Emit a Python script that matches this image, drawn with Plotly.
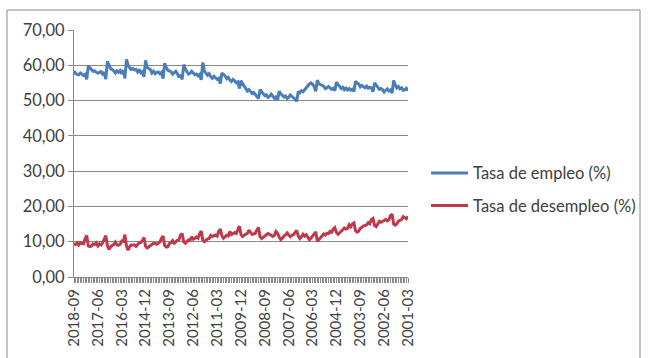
import pandas as pd
import plotly.graph_objects as go

# Monthly periods, March 2001 to September 2018
months = [p.strftime("%Y-%m") for p in pd.period_range("2001-03", "2018-09", freq="M")]

# Tasa de empleo (%), chronological, one row per year
empleo = [
    52.8, 53.5, 53.1, 52.9, 53.6, 53.3, 54.0, 53.6, 54.4, 55.7,              # 2001 (Mar-Dec)
    52.1, 53.0, 52.7, 53.3, 52.9, 52.4, 53.1, 53.4, 53.2, 53.8, 54.2, 55.0,  # 2002
    52.5, 53.6, 53.8, 53.5, 54.1, 53.6, 53.9, 54.3, 53.9, 54.7, 55.0, 55.5,  # 2003
    52.6, 53.2, 52.9, 53.4, 53.0, 53.5, 53.1, 53.8, 53.4, 54.0, 54.4, 55.2,  # 2004
    52.8, 53.5, 53.2, 53.7, 54.0, 53.6, 53.4, 54.1, 54.2, 54.5, 54.8, 55.8,  # 2005
    52.6, 54.0, 54.6, 55.0, 54.7, 54.2, 53.4, 52.9, 52.5, 52.8, 52.2, 52.6,  # 2006
    49.8, 50.4, 50.9, 51.2, 51.6, 50.9, 50.6, 51.3, 51.0, 51.5, 51.9, 52.6,  # 2007
    50.2, 51.0, 50.6, 51.3, 51.8, 51.2, 50.9, 51.6, 51.4, 51.9, 52.4, 53.1,  # 2008
    50.6, 51.2, 51.8, 52.3, 52.0, 52.6, 53.1, 52.7, 53.3, 54.2, 54.8, 55.6,  # 2009
    53.4, 55.3, 55.1, 55.6, 56.0, 55.4, 55.8, 56.6, 56.2, 57.0, 57.4, 57.8,  # 2010
    54.8, 56.3, 56.0, 56.5, 56.9, 56.3, 56.7, 57.6, 57.2, 57.8, 58.4, 60.8,  # 2011
    55.9, 57.4, 57.0, 57.5, 57.3, 57.8, 58.3, 57.7, 57.5, 58.2, 58.9, 60.2,  # 2012
    56.0, 57.3, 56.6, 57.6, 58.3, 57.9, 57.5, 58.2, 58.4, 58.6, 59.4, 60.6,  # 2013
    56.2, 58.0, 57.6, 58.1, 58.0, 57.6, 58.3, 57.8, 58.8, 59.1, 59.4, 61.4,  # 2014
    56.7, 58.2, 57.9, 58.8, 58.1, 58.8, 58.7, 59.1, 58.8, 59.3, 60.1, 61.7,  # 2015
    56.3, 58.6, 57.6, 58.5, 58.0, 58.4, 57.8, 58.4, 58.9, 59.1, 60.0, 61.1,  # 2016
    56.1, 58.0, 57.5, 58.2, 58.0, 57.8, 58.0, 58.4, 58.3, 58.9, 59.2, 59.8,  # 2017
    56.0, 57.4, 57.1, 57.5, 57.8, 57.3, 57.5, 57.6, 58.4,                    # 2018 (Jan-Sep)
]

# Tasa de desempleo (%), chronological, one row per year
desempleo = [
    17.2, 16.5, 16.8, 17.1, 16.3, 16.0, 15.8, 15.1, 14.7, 15.0,              # 2001 (Mar-Dec)
    17.8, 17.4, 16.2, 15.9, 16.3, 16.0, 15.7, 15.5, 15.8, 14.9, 14.3, 14.6,  # 2002
    16.6, 16.3, 15.1, 15.4, 14.8, 14.6, 14.5, 14.1, 13.8, 13.0, 12.7, 13.1,  # 2003
    15.3, 15.0, 14.2, 14.8, 13.8, 13.6, 13.9, 13.4, 12.9, 12.4, 12.1, 12.6,  # 2004
    14.0, 13.6, 12.7, 12.9, 12.3, 12.4, 11.9, 12.2, 11.6, 11.0, 10.5, 10.1,  # 2005
    12.8, 12.2, 11.3, 11.0, 10.6, 11.2, 12.0, 11.6, 12.1, 11.4, 10.9, 11.6,  # 2006
    13.2, 12.6, 12.0, 11.8, 11.4, 11.9, 12.5, 11.9, 11.6, 11.0, 10.6, 11.3,  # 2007
    12.4, 12.9, 11.8, 11.5, 11.9, 12.1, 12.3, 12.0, 11.6, 11.2, 10.9, 11.4,  # 2008
    14.0, 13.3, 12.4, 12.2, 12.1, 12.6, 13.3, 12.4, 12.0, 11.8, 11.5, 12.0,  # 2009
    14.4, 13.1, 12.3, 12.6, 12.3, 12.0, 12.9, 11.6, 11.8, 11.3, 11.0, 11.7,  # 2010
    13.6, 12.9, 11.6, 11.9, 11.6, 11.5, 11.8, 10.9, 10.8, 10.4, 10.0, 10.4,  # 2011
    13.0, 12.3, 11.0, 11.3, 11.0, 10.7, 11.4, 10.4, 10.5, 9.9, 9.6, 10.0,    # 2012
    12.3, 11.9, 10.6, 10.4, 9.9, 9.6, 10.3, 9.7, 9.5, 8.6, 8.5, 8.9,         # 2013
    11.6, 11.0, 9.9, 9.6, 9.3, 9.5, 9.6, 9.2, 8.9, 8.5, 8.2, 8.7,            # 2014
    11.2, 10.3, 9.8, 9.7, 9.2, 8.7, 9.1, 9.2, 9.1, 8.6, 7.6, 8.8,            # 2015
    12.0, 10.1, 10.2, 9.3, 9.0, 9.1, 9.9, 9.2, 8.8, 8.6, 7.8, 8.9,           # 2016
    11.7, 10.5, 9.7, 9.1, 9.4, 8.8, 9.7, 9.2, 9.4, 8.8, 8.6, 8.8,            # 2017
    11.8, 10.8, 9.4, 9.5, 9.7, 9.1, 9.7, 9.2, 9.5,                           # 2018 (Jan-Sep)
]

# A label every 15 months, counting from March 2001
tick_labels = [m if i % 15 == 0 else "" for i, m in enumerate(months)]

FONT = "Lato"
TEXT = "#404040"
GRID = "#8a8a8a"

fig = go.Figure()
fig.add_trace(go.Scatter(
    x=months, y=empleo, mode="lines", name="Tasa de empleo (%)",
    legendgroup="a", line=dict(color="#4A7EBB", width=3),
))
fig.add_trace(go.Scatter(
    x=months, y=desempleo, mode="lines", name="Tasa de desempleo (%)",
    legendgroup="b", line=dict(color="#C0394A", width=3),
))

fig.update_layout(
    width=648, height=358,
    margin=dict(l=74, r=240, t=30, b=81, autoexpand=False),
    paper_bgcolor="white", plot_bgcolor="white",
    separators=",.",
    font=dict(family=FONT, color=TEXT, size=12),
    showlegend=True,
    legend=dict(
        x=1.054, xanchor="left", y=0.355, yanchor="middle",
        font=dict(family=FONT, size=16.5, color=TEXT),
        traceorder="grouped", tracegroupgap=8, itemwidth=37,
        bgcolor="rgba(0,0,0,0)",
    ),
    xaxis=dict(
        type="category", autorange="reversed",
        tickmode="array", tickvals=months, ticktext=tick_labels,
        tickangle=-90, ticks="outside", ticklen=5, tickcolor="#8a8a8a",
        tickfont=dict(family=FONT, size=15, color=TEXT),
        showgrid=False, showline=True, linecolor=GRID, linewidth=1,
        zeroline=False,
    ),
    yaxis=dict(
        range=[0, 70], dtick=10, tickformat=".2f",
        ticks="outside", ticklen=5, tickcolor=GRID,
        tickfont=dict(family=FONT, size=16.5, color=TEXT),
        showgrid=True, gridcolor=GRID, gridwidth=1,
        showline=True, linecolor=GRID, linewidth=1,
        zeroline=False,
    ),
)

# Chart-area border
fig.add_shape(
    type="rect", xref="paper", yref="paper",
    x0=-67 / 334, x1=566 / 334, y0=-90 / 247, y1=267 / 247,
    line=dict(color="#8a8a8a", width=1), fillcolor="rgba(0,0,0,0)", layer="below",
)

fig.write_html("out.html")
